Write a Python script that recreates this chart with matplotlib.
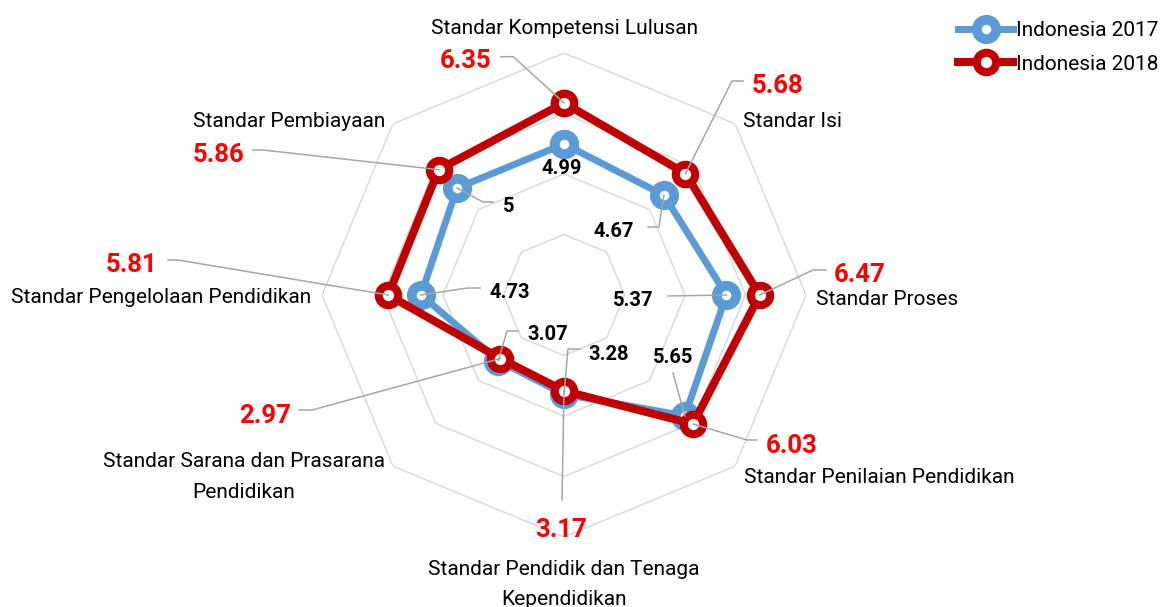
import numpy as np
import matplotlib
matplotlib.use("Agg")
import matplotlib.pyplot as plt
from matplotlib.lines import Line2D

plt.rcParams['font.family'] = ['Roboto', 'DejaVu Sans']

# -----------------------------
# Data
# -----------------------------
categories = [
    "Standar Kompetensi Lulusan",
    "Standar Isi",
    "Standar Proses",
    "Standar Penilaian Pendidikan",
    "Standar Pendidik dan Tenaga\nKependidikan",
    "Standar Sarana dan Prasarana\nPendidikan",
    "Standar Pengelolaan Pendidikan",
    "Standar Pembiayaan",
]
values_2017 = [4.99, 4.67, 5.37, 5.65, 3.28, 3.07, 4.73, 5.0]
values_2018 = [6.35, 5.68, 6.47, 6.03, 3.17, 2.97, 5.81, 5.86]
series_names = ["Indonesia 2017", "Indonesia 2018"]
ring_values = [2, 4, 6, 8]

# -----------------------------
# Layout (pixels, measured from top-left)
# -----------------------------
W, H = 1167, 607
CX, CY, R = 564, 295, 242

cat_pos = [
    [(564.5, 34.3)],
    [(792.5, 126.7)],
    [(887.5, 305)],
    [(879, 483.3)],
    [(564, 575), (564, 605)],
    [(244, 466.7), (244, 498.3)],
    [(161, 303.3)],
    [(289, 126.7)],
]
red_pos = [(466, 68.3), (777.5, 93.3), (860, 281.7), (792, 453.3),
           (561, 536.7), (265, 422.7), (132, 272), (218.5, 161.7)]
red_leaders = [((500.7, 56.7), (513.3, 56.7)), ((743, 81), (732, 81)),
               ((826, 270), (813, 270)), ((757, 440), (747, 440)),
               ((562, 500), (562, 500)), ((299, 410), (312, 410)),
               ((168, 260), (178, 260)), ((253, 150), (263, 150))]
blue_pos = [(561.5, 174), (613.5, 236.7), (633.5, 306), (673, 363.3),
            (609, 360), (547.5, 340), (510, 298.3), (508.5, 211.7)]
blue_leaders = [None, ((648, 227), (659, 227)), ((668, 296), (668, 296)),
                ((673, 373), (673, 373)), ((580, 349), (568, 349)),
                ((518, 331), (507, 331)), ((480, 288), (467, 288)),
                ((493, 202), (483, 202))]


def fx(x):
    return x / W


def fy(y):
    return 1 - y / H


fig = plt.figure(figsize=(W / 100, H / 100), dpi=100)
ax = fig.add_axes([fx(CX - R), fy(CY + R), 2 * R / W, 2 * R / H], projection='polar')
ax.set_theta_zero_location('N')
ax.set_theta_direction(-1)
ax.set_ylim(0, ring_values[-1])
ax.set_xticks([])
ax.set_yticks([])
ax.grid(False)
ax.spines['polar'].set_visible(False)

n = len(categories)
theta = np.arange(n) * 2 * np.pi / n
theta_c = np.append(theta, theta[0])

# octagon grid
for rv in ring_values:
    ax.plot(theta_c, [rv] * (n + 1), color='#D9D9D9', lw=1.1, zorder=1)

l17, = ax.plot(theta_c, values_2017 + values_2017[:1], color='#5B9BD5', lw=5,
               marker='o', ms=14, mew=7, mfc='white', mec='#5B9BD5', zorder=3,
               solid_joinstyle='round')
l18, = ax.plot(theta_c, values_2018 + values_2018[:1], color='#C00000', lw=5.8,
               marker='o', ms=14, mew=5.8, mfc='white', mec='#C00000', zorder=4,
               solid_joinstyle='round')

to_fig = fig.transFigure.inverted()


def leader(start, elbow, t, v):
    mx, my = to_fig.transform(ax.transData.transform((t, v)))
    fig.add_artist(Line2D([fx(start[0]), fx(elbow[0]), mx],
                          [fy(start[1]), fy(elbow[1]), my],
                          transform=fig.transFigure, color='#A6A6A6', lw=1.1, zorder=5))


# category labels
for name, pos in zip(categories, cat_pos):
    for line, (x, y) in zip(name.split("\n"), pos):
        fig.text(fx(x), fy(y), line, ha='center', va='baseline', fontsize=15, color='black')

# value labels
for i in range(n):
    if blue_leaders[i] is not None:
        leader(blue_leaders[i][0], blue_leaders[i][1], theta[i], values_2017[i])
    leader(red_leaders[i][0], red_leaders[i][1], theta[i], values_2018[i])
    x, y = blue_pos[i]
    fig.text(fx(x), fy(y), f"{values_2017[i]:g}", ha='center', va='baseline',
             fontsize=14.5, fontweight='bold', color='black', zorder=6)
    x, y = red_pos[i]
    fig.text(fx(x), fy(y), f"{values_2018[i]:g}", ha='center', va='baseline',
             fontsize=18.5, fontweight='bold', color='#FF0000', zorder=6)

fig.legend([l17, l18], series_names, loc='upper left',
           bbox_to_anchor=(fx(958), fy(21)), frameon=False, fontsize=15,
           handlelength=2.64, handletextpad=0.15, borderpad=0, borderaxespad=0,
           labelspacing=0.7)

fig.savefig("out.png", dpi=100, facecolor='white')
